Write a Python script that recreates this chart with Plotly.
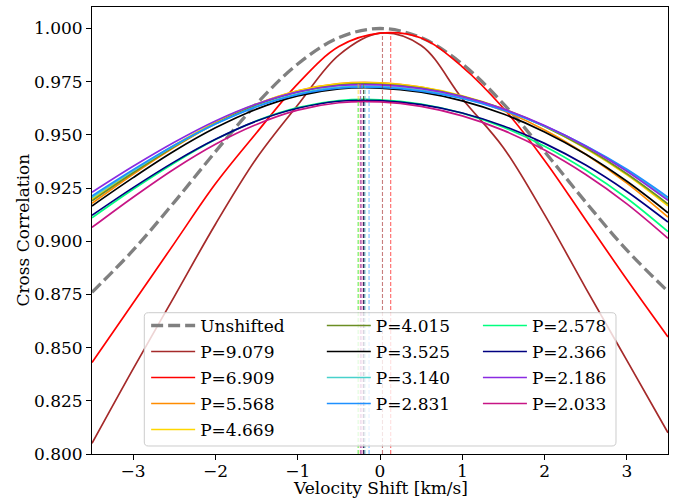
import plotly.graph_objects as go

# ---------------- data ----------------
velocity = [-3.5, -3.0, -2.5, -2.0, -1.5, -1.0, -0.5, 0.0, 0.5, 1.0, 1.5, 2.0, 2.5, 3.0, 3.5]

unshifted = [0.8760, 0.8958, 0.9184, 0.9421, 0.9646, 0.9833, 0.9957, 1.0000,
             0.9957, 0.9833, 0.9646, 0.9421, 0.9184, 0.8958, 0.8764]

p_9079 = [0.805, 0.840, 0.874, 0.908, 0.939, 0.964, 0.9875, 0.9978,
          0.992, 0.967, 0.944, 0.9125, 0.878, 0.844, 0.810]
p_6909 = [0.843, 0.871, 0.899, 0.927, 0.951, 0.974, 0.9915, 0.9978,
          0.9955, 0.982, 0.9625, 0.938, 0.910, 0.882, 0.855]
p_5568 = [0.9178, 0.9315, 0.9442, 0.9554, 0.9643, 0.9707, 0.9741, 0.9745,
          0.9724, 0.9680, 0.9613, 0.9523, 0.9409, 0.9273, 0.9113]
p_4669 = [0.9197, 0.9329, 0.9451, 0.9559, 0.9645, 0.9707, 0.9740, 0.9743,
          0.9724, 0.9684, 0.9623, 0.9540, 0.9436, 0.9312, 0.9166]
p_4015 = [0.9190, 0.9322, 0.9445, 0.9553, 0.9640, 0.9701, 0.9734, 0.9738,
          0.9720, 0.9681, 0.9621, 0.9540, 0.9439, 0.9317, 0.9175]
p_3525 = [0.9166, 0.9299, 0.9424, 0.9533, 0.9621, 0.9683, 0.9716, 0.9720,
          0.9701, 0.9660, 0.9598, 0.9514, 0.9409, 0.9282, 0.9134]
p_3140 = [0.9205, 0.9331, 0.9449, 0.9551, 0.9634, 0.9693, 0.9725, 0.9728,
          0.9711, 0.9674, 0.9618, 0.9542, 0.9448, 0.9334, 0.9200]
p_2831 = [0.9213, 0.9336, 0.9451, 0.9551, 0.9632, 0.9689, 0.9720, 0.9723,
          0.9706, 0.9671, 0.9616, 0.9542, 0.9449, 0.9338, 0.9207]
p_2578 = [0.9110, 0.9244, 0.9368, 0.9478, 0.9566, 0.9628, 0.9661, 0.9665,
          0.9645, 0.9602, 0.9536, 0.9447, 0.9335, 0.9202, 0.9045]
p_2366 = [0.9122, 0.9252, 0.9373, 0.9479, 0.9565, 0.9625, 0.9658, 0.9661,
          0.9642, 0.9603, 0.9542, 0.9460, 0.9358, 0.9234, 0.9090]
p_2186 = [0.9230, 0.9352, 0.9465, 0.9565, 0.9645, 0.9702, 0.9732, 0.9735,
          0.9717, 0.9680, 0.9622, 0.9544, 0.9447, 0.9329, 0.9192]
p_2033 = [0.9065, 0.9207, 0.9340, 0.9456, 0.9549, 0.9616, 0.9651, 0.9655,
          0.9634, 0.9589, 0.9521, 0.9429, 0.9314, 0.9176, 0.9014]

labels = ["P=9.079", "P=6.909", "P=5.568", "P=4.669", "P=4.015", "P=3.525",
          "P=3.140", "P=2.831", "P=2.578", "P=2.366", "P=2.186", "P=2.033"]
series = [p_9079, p_6909, p_5568, p_4669, p_4015, p_3525,
          p_3140, p_2831, p_2578, p_2366, p_2186, p_2033]
colors = ["#a52a2a", "#ff0000", "#ff8c00", "#ffd700", "#6b8e23", "#000000",
          "#48d1cc", "#1e90ff", "#00ff7f", "#000080", "#8a2be2", "#c71585"]
legend_ids = ["legend", "legend", "legend", "legend", "legend2", "legend2",
              "legend2", "legend2", "legend3", "legend3", "legend3", "legend3"]

# peak location / peak value of each shifted curve (dashed verticals)
peak_velocity = [0.03, 0.13, -0.24, -0.265, -0.20, -0.197,
                 -0.18, -0.133, -0.265, -0.197, -0.235, -0.22]
peak_corr = [0.998, 0.998, 0.9747, 0.9745, 0.9740, 0.9722,
             0.9730, 0.9725, 0.9667, 0.9663, 0.9737, 0.9657]

y_min = 0.8
y_ticks = [0.800, 0.825, 0.850, 0.875, 0.900, 0.925, 0.950, 0.975, 1.000]
x_ticks = [-3, -2, -1, 0, 1, 2, 3]
x_title = "Velocity Shift [km/s]"
y_title = "Cross Correlation"

FONT = "DejaVu Serif"

fig = go.Figure()

fig.add_trace(go.Scatter(
    x=velocity, y=unshifted, mode="lines", name="Unshifted",
    line=dict(color="#808080", width=3.3, dash="12px,5px", shape="spline"),
    legend="legend", legendgroup="g_unshifted"))

for lab, ys, col, lg in zip(labels, series, colors, legend_ids):
    fig.add_trace(go.Scatter(
        x=velocity, y=ys, mode="lines", name=lab,
        line=dict(color=col, width=1.7, shape="spline"), legend=lg,
        legendgroup="g_" + lab))

for pv, pc, col in zip(peak_velocity, peak_corr, colors):
    fig.add_trace(go.Scatter(
        x=[pv, pv], y=[y_min, pc], mode="lines", showlegend=False,
        opacity=0.6, line=dict(color=col, width=1.1, dash="4px,2px"),
        hoverinfo="skip"))

# legend frame (semi-opaque white, rounded corners)
x0, x1, y0, y1 = 0.0908, 0.9097, 0.0179, 0.3161
rx, ry = 0.007, 0.009
path = (f"M{x0+rx},{y0} L{x1-rx},{y0} Q{x1},{y0} {x1},{y0+ry} "
        f"L{x1},{y1-ry} Q{x1},{y1} {x1-rx},{y1} L{x0+rx},{y1} "
        f"Q{x0},{y1} {x0},{y1-ry} L{x0},{y0+ry} Q{x0},{y0} {x0+rx},{y0} Z")
fig.add_shape(type="path", path=path, xref="paper", yref="paper",
              fillcolor="rgba(255,255,255,0.8)",
              line=dict(color="#cccccc", width=1), layer="above")

# axis titles as annotations for exact placement
fig.add_annotation(text=x_title, xref="paper", yref="paper", x=0.5, y=-0.1007,
                   xanchor="center", yanchor="bottom", showarrow=False,
                   borderpad=0,
                   font=dict(family=FONT, size=17, color="black"))
fig.add_annotation(text=y_title, xref="paper", yref="paper", x=-0.1215, y=0.5,
                   xanchor="center", yanchor="middle", textangle=-90,
                   showarrow=False,
                   font=dict(family=FONT, size=17, color="black"))

leg_common = dict(xanchor="left", yanchor="top", bgcolor="rgba(0,0,0,0)",
                  borderwidth=0, itemwidth=44, tracegroupgap=0.9,
                  traceorder="grouped",
                  font=dict(family=FONT, size=17, color="black"))

fig.update_layout(
    width=680, height=499,
    margin=dict(l=92, r=12, t=7, b=45),
    paper_bgcolor="white", plot_bgcolor="white",
    font=dict(family=FONT, size=17, color="black"),
    legend=dict(x=0.094, y=0.3267, **leg_common),
    legend2=dict(x=0.399, y=0.3267, **leg_common),
    legend3=dict(x=0.670, y=0.3267, **leg_common),
    xaxis=dict(range=[-3.5, 3.5], tickvals=x_ticks, ticks="outside", ticklen=5,
               tickwidth=1, tickcolor="black", showline=True, linecolor="black",
               linewidth=1, mirror=True, showgrid=False, zeroline=False,
               automargin=False, ticklabelstandoff=-3,
               tickfont=dict(family=FONT, size=17)),
    yaxis=dict(range=[0.8, 1.0101], tickvals=y_ticks, tickformat=".3f",
               ticks="outside", ticklen=5, tickwidth=1, tickcolor="black",
               showline=True, linecolor="black", linewidth=1, mirror=True,
               showgrid=False, zeroline=False, automargin=False,
               tickfont=dict(family=FONT, size=17)),
)

fig.write_html("out.html")
